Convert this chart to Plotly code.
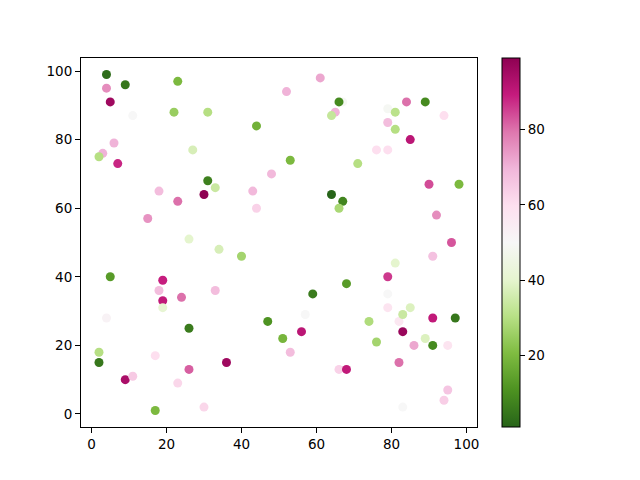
import plotly.graph_objects as go

# scatter points (x, y, colour value)
x_vals = [4, 9, 23, 4, 5, 11, 22, 31, 44, 6, 3, 2, 7, 27, 31, 33, 30, 18, 23, 15,
          43, 44, 48, 26,
          61, 52, 67, 66, 65, 64, 79, 81, 84, 89, 94, 79, 81, 85, 76, 79, 53, 71,
          90, 98, 64, 67, 66, 92, 96,
          34, 40, 5, 19, 18, 24, 33, 19, 19, 4, 26, 47, 2, 2, 17, 9, 11, 26, 23,
          36, 17, 30,
          51, 53, 56, 57, 59, 68, 66, 68, 74, 76, 79, 79, 79, 81, 82, 83, 83, 85,
          82, 83, 86, 89, 91, 91, 91, 97, 95, 95, 94]
y_vals = [99, 96, 97, 95, 91, 87, 88, 88, 84, 79, 76, 75, 73, 77, 68, 66, 64, 65, 62, 57,
          65, 60, 70, 51,
          98, 94, 91, 91, 88, 87, 89, 88, 91, 91, 87, 85, 83, 80, 77, 77, 74, 73,
          67, 67, 64, 62, 60, 58, 50,
          48, 46, 40, 39, 36, 34, 36, 33, 31, 28, 25, 27, 18, 15, 17, 10, 11, 13, 9,
          15, 1, 2,
          22, 18, 24, 29, 35, 38, 13, 13, 27, 21, 40, 35, 31, 44, 27, 29, 24, 31,
          15, 2, 20, 22, 20, 28, 46, 28, 20, 7, 4]
c_vals = [3, 5, 20, 76, 96, 50, 25, 30, 18, 70, 70, 30, 88, 37, 7, 34, 99, 68, 80, 75,
          69, 63, 69, 40,
          72, 70, 49, 9, 70, 33, 49, 31, 80, 9, 60, 68, 30, 91, 60, 60, 20, 30,
          84, 20, 1, 8, 28, 76, 83,
          37, 27, 13, 89, 68, 80, 68, 90, 41, 52, 6, 11, 30, 5, 60, 94, 65, 82, 62,
          96, 20, 62,
          19, 68, 91, 50, 6, 13, 63, 90, 29, 27, 86, 50, 58, 40, 57, 34, 97, 38,
          80, 50, 72, 38, 9, 90, 67, 5, 58, 66, 64]

fig = go.Figure()

fig.add_trace(go.Scatter(
    x=x_vals,
    y=y_vals,
    mode="markers",
    marker=dict(
        size=9,
        color=c_vals,
        colorscale="PiYG_r",
        showscale=True,
        colorbar=dict(
            x=1.063,
            xanchor="left",
            xpad=0,
            y=0.5,
            ypad=0,
            len=1,
            lenmode="fraction",
            thickness=18,
            outlinecolor="black",
            outlinewidth=1,
            ticks="outside",
            ticklen=5,
            tickcolor="black",
            tickvals=[20, 40, 60, 80],
            tickfont=dict(size=13.5),
        ),
    ),
    showlegend=False,
))

axis_style = dict(
    showgrid=False,
    zeroline=False,
    showline=True,
    linecolor="black",
    linewidth=1,
    mirror=True,
    ticks="outside",
    ticklen=5,
    tickcolor="black",
    tickfont=dict(size=13.5),
)

fig.update_xaxes(range=[-2.8, 102.8], tickvals=[0, 20, 40, 60, 80, 100], **axis_style)
fig.update_yaxes(range=[-3.8, 103.8], tickvals=[0, 20, 40, 60, 80, 100], **axis_style)

# the page body adds 8px, so margins are shifted to keep the axes where the reference has them
fig.update_layout(
    width=640,
    height=480,
    margin=dict(l=73, r=171, t=50, b=61),
    plot_bgcolor="white",
    paper_bgcolor="white",
    font=dict(family="DejaVu Sans", color="black"),
)

fig.write_html("out.html")
